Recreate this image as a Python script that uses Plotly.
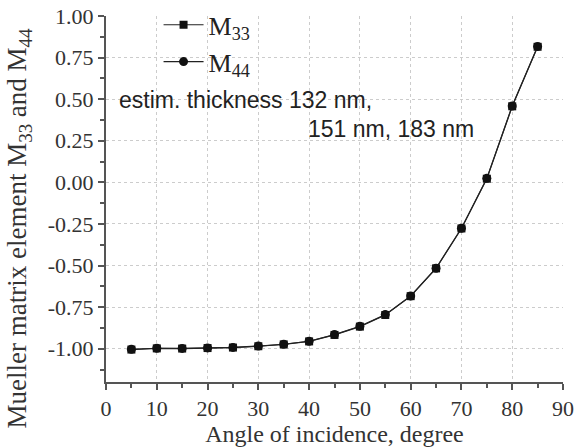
import plotly.graph_objects as go

angles = [5, 10, 15, 20, 25, 30, 35, 40, 45, 50, 55, 60, 65, 70, 75, 80, 85]
m33 = [-1.005, -0.998, -0.999, -0.996, -0.993, -0.985, -0.974, -0.956, -0.917, -0.867, -0.797, -0.684, -0.517, -0.277, 0.022, 0.457, 0.815]
m44 = [-1.003, -0.997, -0.998, -0.995, -0.992, -0.984, -0.973, -0.955, -0.915, -0.865, -0.795, -0.683, -0.516, -0.276, 0.024, 0.459, 0.817]
y_ticks = [-1.0, -0.75, -0.5, -0.25, 0.0, 0.25, 0.5, 0.75, 1.0]
y_ticklabels = ["-1.00", "-0.75", "-0.50", "-0.25", "0.00", "0.25", "0.50", "0.75", "1.00"]

fig = go.Figure()
fig.add_trace(go.Scatter(x=angles, y=m33, mode="lines+markers", name="M<sub>33</sub>",
                         line=dict(color="#222222", width=1.2),
                         marker=dict(symbol="square", size=8, color="#111111")))
fig.add_trace(go.Scatter(x=angles, y=m44, mode="lines+markers", name="M<sub>44</sub>",
                         line=dict(color="#222222", width=1.2),
                         marker=dict(symbol="circle", size=9, color="#111111")))

axis_common = dict(showline=True, linecolor="#555555", linewidth=2, ticks="outside",
                   ticklen=6, tickwidth=1.5, tickcolor="#555555", showgrid=True,
                   gridcolor="#cccccc", griddash="dot", gridwidth=1, zeroline=False,
                   tickfont=dict(family="Liberation Serif", size=22, color="#333333"),
                   mirror=False, automargin=False)

fig.update_xaxes(range=[0, 90], dtick=10, tick0=0,
                 minor=dict(dtick=5, ticks="outside", ticklen=4, tickcolor="#555555", showgrid=False),
                 title=dict(text="Angle of incidence, degree", standoff=2,
                            font=dict(family="Liberation Serif", size=24, color="#333333")),
                 **axis_common)
fig.update_yaxes(range=[-1.2, 1.0], tickmode="array", tickvals=y_ticks, ticktext=y_ticklabels,
                 minor=dict(dtick=0.125, tick0=0, ticks="outside", ticklen=4, tickcolor="#555555", showgrid=False),
                 **axis_common)

fig.add_annotation(x=-0.19, y=0.42, xref="paper", yref="paper", xanchor="center", yanchor="middle",
                   textangle=-90, showarrow=False,
                   text="Mueller matrix element M<sub>33</sub> and M<sub>44</sub>",
                   font=dict(family="Liberation Serif", size=27, color="#333333"))
fig.add_annotation(x=0.024, y=0.77, xref="paper", yref="paper", xanchor="left", yanchor="middle",
                   text="estim. thickness 132 nm,", showarrow=False,
                   font=dict(family="Liberation Sans", size=23, color="#222222"))
fig.add_annotation(x=0.81, y=0.69, xref="paper", yref="paper", xanchor="right", yanchor="middle",
                   text="151 nm, 183 nm", showarrow=False,
                   font=dict(family="Liberation Sans", size=23, color="#222222"))

fig.update_layout(width=579, height=448, margin=dict(l=106, r=16, t=16, b=66, autoexpand=False),
                  plot_bgcolor="white", paper_bgcolor="white",
                  legend=dict(x=0.115, y=1.04, xanchor="left", yanchor="top",
                              bgcolor="rgba(0,0,0,0)", tracegroupgap=0, itemwidth=40,
                              font=dict(family="Liberation Serif", size=26, color="#222222")),
                  showlegend=True)

fig.write_html("out.html")
